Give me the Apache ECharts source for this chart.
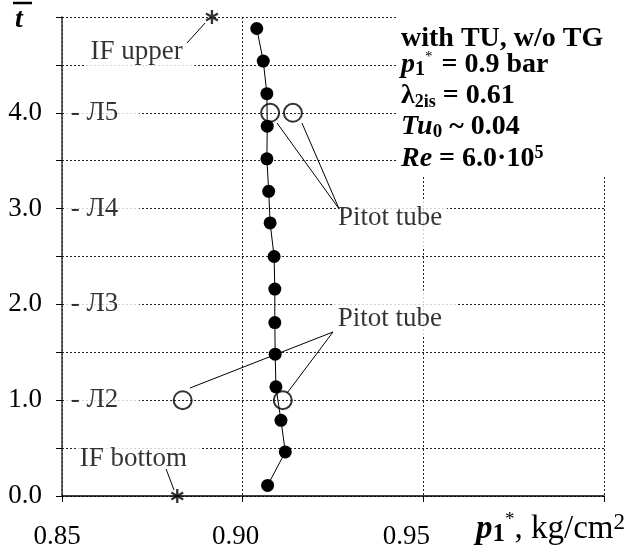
<!DOCTYPE html>
<html>
<head>
<meta charset="utf-8">
<script src="https://cdn.jsdelivr.net/npm/echarts@6/dist/echarts.min.js"></script>
<style>
  html, body { margin: 0; padding: 0; background: #fff; }
  #chart { width: 626px; height: 552px; }
</style>
</head>
<body>
<div id="chart"></div>
<script>
// measured total pressure along the blade height
const pTotal = [0.9069, 0.9118, 0.9106, 0.9092, 0.9090, 0.9089, 0.9089, 0.9087, 0.9076, 0.9072, 0.9067, 0.9068, 0.9067, 0.9057, 0.9039]
const tBar = [0.11, 0.46, 0.79, 1.14, 1.48, 1.81, 2.16, 2.50, 2.85, 3.18, 3.52, 3.86, 4.20, 4.54, 4.88]

// pitot tube readings
const pitotP = [0.9076, 0.9139, 0.8834, 0.9111]
const pitotT = [4.0, 4.0, 1.0, 1.0]

// inlet flange marks (upper / bottom)
const ifP = [0.8915, 0.8819]
const ifT = [5.0, 0.0]

// blade section labels
const sectionNames = ['- Л2', '- Л3', '- Л4', '- Л5']
const sectionT = [1, 2, 3, 4]

// annotations and their leader lines
const noteText = ['IF upper', 'IF bottom', 'Pitot tube', 'Pitot tube']
const noteP = [0.8716, 0.8713, 0.9412, 0.9420]
const noteT = [4.624, 0.386, 2.839, 1.905]
const leaders = [
  [[0.8846, 4.729], [0.8896, 4.937]],
  [[0.8788, 0.282], [0.8810, 0.063]],
  [[0.9267, 2.996], [0.9095, 3.894]],
  [[0.9267, 2.996], [0.9164, 3.894]],
  [[0.9250, 1.712], [0.8854, 1.127]],
  [[0.9250, 1.712], [0.9123, 1.075]]
]

const xTicks = ['0.85', '0.90', '0.95', '']
const FONT = 'Liberation Serif'

const starPath = 'path://M-1.2,-7L1.2,-7L1.2,7L-1.2,7Z' +
  'M5.462,-4.539L6.662,-2.461L-5.462,4.539L-6.662,2.461Z' +
  'M-6.662,-2.461L-5.462,-4.539L6.662,2.461L5.462,4.539Z'

// white boxes behind the notes, they cut the grid lines like in the original
const notePads = [[1, 12, 3, 5], [2, 15, 2, 4], [4, 5, 16, 2], [15, 14, 4, 5]]
const noteRich = {}
notePads.forEach((pad, i) => {
  noteRich['n' + i] = { fontSize: 27, fontFamily: FONT, color: '#000', backgroundColor: '#fff', padding: pad }
})

const chart = echarts.init(document.getElementById('chart'))

chart.setOption({
  animation: false,
  backgroundColor: '#fff',
  textStyle: { fontFamily: FONT },
  grid: { left: 62, right: 22, top: 17, bottom: 56 },
  xAxis: {
    type: 'value',
    min: 0.85,
    max: 1.0,
    interval: 0.05,
    axisLine: { lineStyle: { color: '#000', width: 1.5 } },
    axisTick: { length: 6, lineStyle: { color: '#000' } },
    splitLine: { lineStyle: { color: '#222', type: [2, 2], width: 1 } },
    axisLabel: {
      margin: 27,
      color: '#000',
      fontSize: 27,
      fontFamily: FONT,
      formatter: (v) => {
        const i = Math.round((v - 0.85) / 0.05)
        const s = xTicks[i] || ''
        return s ? '{t' + i + '|' + s + '}' : ''
      },
      rich: {
        t0: { fontSize: 27, fontFamily: FONT, color: '#000', padding: [0, 10, 0, 0] },
        t1: { fontSize: 27, fontFamily: FONT, color: '#000', padding: [0, 14, 0, 0] },
        t2: { fontSize: 27, fontFamily: FONT, color: '#000', padding: [0, 34, 0, 0] }
      }
    }
  },
  yAxis: {
    type: 'value',
    min: 0,
    max: 5,
    interval: 0.5,
    axisLine: { show: true, lineStyle: { color: '#333', width: 1.5 } },
    axisTick: { show: true, length: 6, lineStyle: { color: '#000' } },
    splitLine: { lineStyle: { color: '#222', type: [2, 2], width: 1 } },
    axisLabel: {
      margin: 20,
      color: '#000',
      fontSize: 27,
      fontFamily: FONT,
      formatter: (v) => (v % 1 === 0 && v < 5 ? v.toFixed(1) : '')
    }
  },
  series: [
    {
      type: 'line',
      data: pTotal.map((p, i) => [p, tBar[i]]),
      symbol: 'circle',
      symbolSize: 13,
      lineStyle: { color: '#000', width: 1 },
      itemStyle: { color: '#000' },
      z: 2
    },
    {
      type: 'scatter',
      data: pitotP.map((p, i) => [p, pitotT[i]]),
      symbol: 'circle',
      symbolSize: 18,
      itemStyle: { color: 'rgba(0,0,0,0)', borderColor: '#000', borderWidth: 2 },
      z: 3
    },
    {
      type: 'scatter',
      data: ifP.map((p, i) => [p, ifT[i]]),
      symbol: starPath,
      symbolSize: [13, 14],
      itemStyle: { color: '#000' },
      z: 3
    },
    {
      type: 'scatter',
      data: sectionT.map((t, i) => ({ value: [0.8612, t], name: sectionNames[i] })),
      symbolSize: 0,
      silent: true,
      label: {
        show: true,
        position: 'inside',
        formatter: (d) => d.name,
        color: '#000',
        fontSize: 27,
        fontFamily: FONT,
        backgroundColor: '#fff',
        padding: [2, 21, 2, 5]
      },
      z: 2
    },
    {
      type: 'scatter',
      data: noteText.map((s, i) => ({ value: [noteP[i], noteT[i]], name: s })),
      symbolSize: 0,
      silent: true,
      label: {
        show: true,
        position: 'inside',
        formatter: (d) => '{n' + d.dataIndex + '|' + d.name + '}',
        rich: noteRich
      },
      z: 2
    },
    {
      type: 'lines',
      coordinateSystem: 'cartesian2d',
      data: leaders.map((c) => ({ coords: c })),
      lineStyle: { color: '#000', width: 1, opacity: 1 },
      silent: true,
      z: 4
    }
  ],
  graphic: [
    { type: 'rect', left: 396, top: 0, shape: { width: 230, height: 176 }, style: { fill: '#fff' }, z: 10 },
    {
      type: 'text', left: 401, top: 25, z: 11,
      style: { text: 'with TU, w/o TG', fontFamily: FONT, fontSize: 28, fontWeight: 'bold', fill: '#000' }
    },
    {
      type: 'text', left: 401, top: 50, z: 11,
      style: {
        text: '{pi|p}{sb|1}{sp|*}{b| = 0.9 bar}',
        rich: {
          pi: { fontFamily: FONT, fontSize: 28, fontWeight: 'bold', fontStyle: 'italic', lineHeight: 30 },
          sb: { fontFamily: FONT, fontSize: 20, fontWeight: 'bold', verticalAlign: 'bottom', lineHeight: 24 },
          sp: { fontFamily: FONT, fontSize: 15, verticalAlign: 'top', lineHeight: 14, padding: [0, 2, 0, 0] },
          b: { fontFamily: FONT, fontSize: 28, fontWeight: 'bold', lineHeight: 30 }
        }
      }
    },
    {
      type: 'text', left: 401, top: 82, z: 11,
      style: {
        text: '{b|λ}{sb|2is}{b| = 0.61}',
        rich: {
          sb: { fontFamily: FONT, fontSize: 18, fontWeight: 'bold', verticalAlign: 'bottom', lineHeight: 20 },
          b: { fontFamily: FONT, fontSize: 28, fontWeight: 'bold', lineHeight: 30 }
        }
      }
    },
    {
      type: 'text', left: 401, top: 113, z: 11,
      style: {
        text: '{bi|Tu}{sb|0}{b| ~ 0.04}',
        rich: {
          bi: { fontFamily: FONT, fontSize: 28, fontWeight: 'bold', fontStyle: 'italic', lineHeight: 30 },
          sb: { fontFamily: FONT, fontSize: 19, fontWeight: 'bold', verticalAlign: 'bottom', lineHeight: 22 },
          b: { fontFamily: FONT, fontSize: 28, fontWeight: 'bold', lineHeight: 30 }
        }
      }
    },
    {
      type: 'text', left: 401, top: 144, z: 11,
      style: {
        text: '{bi|Re}{b| = 6.0·10}{sp|5}',
        rich: {
          bi: { fontFamily: FONT, fontSize: 28, fontWeight: 'bold', fontStyle: 'italic', lineHeight: 30 },
          sp: { fontFamily: FONT, fontSize: 18, fontWeight: 'bold', verticalAlign: 'top', lineHeight: 18 },
          b: { fontFamily: FONT, fontSize: 28, fontWeight: 'bold', lineHeight: 30 }
        }
      }
    },
    // axis titles
    {
      type: 'text', right: 1, top: 511, z: 11,
      style: {
        text: '{pi|p}{sb|1}{sp|*}{n|, kg/cm}{sp2|2}',
        rich: {
          pi: { fontFamily: FONT, fontSize: 33, fontWeight: 'bold', fontStyle: 'italic', lineHeight: 36 },
          sb: { fontFamily: FONT, fontSize: 25, fontWeight: 'bold', verticalAlign: 'bottom', lineHeight: 31 },
          sp: { fontFamily: FONT, fontSize: 19, verticalAlign: 'top', lineHeight: 18 },
          n: { fontFamily: FONT, fontSize: 33, lineHeight: 36 },
          sp2: { fontFamily: FONT, fontSize: 23, verticalAlign: 'top', lineHeight: 20 }
        }
      }
    },
    {
      type: 'text', left: 15, top: 6, z: 11,
      style: { text: 't', fontFamily: FONT, fontSize: 28, fontWeight: 'bold', fontStyle: 'italic', fill: '#000' }
    },
    {
      type: 'line', z: 11,
      shape: { x1: 13, y1: 3, x2: 32, y2: 3 },
      style: { stroke: '#000', lineWidth: 2.5 }
    }
  ]
})
</script>
</body>
</html>
